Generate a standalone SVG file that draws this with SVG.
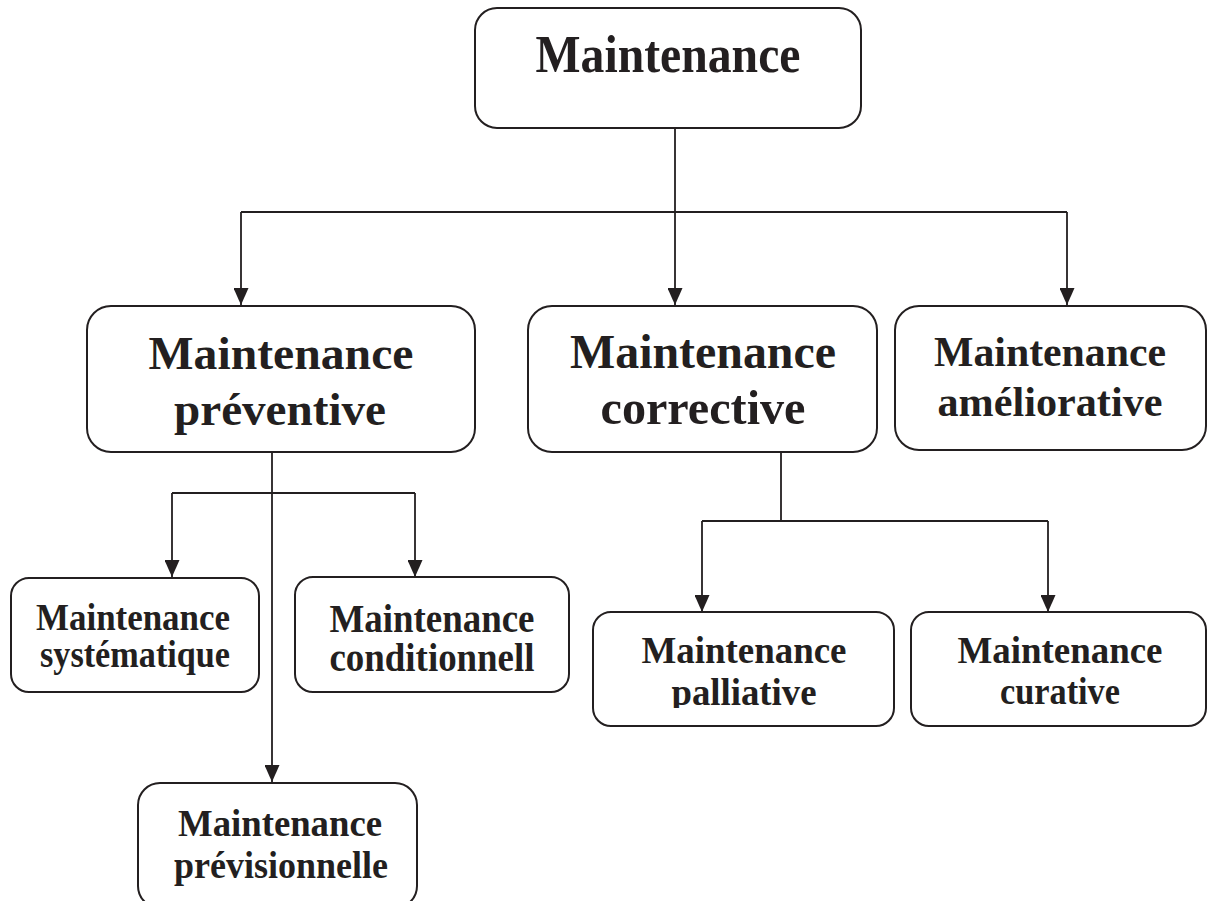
<svg xmlns="http://www.w3.org/2000/svg" width="1208" height="901" viewBox="0 0 1208 901">
<style>
.box{fill:#fff;stroke:#231f20;stroke-width:2}
.t{font-family:"Liberation Serif","Times New Roman",serif;font-weight:bold;fill:#231f20;text-anchor:middle}
.c{fill:none;stroke:#231f20;stroke-width:1.8}
</style>
<defs>
<marker id="a" viewBox="0 0 17 15" refX="17" refY="7.5" markerWidth="17" markerHeight="15" orient="auto" markerUnits="userSpaceOnUse">
<path d="M0,0 L17,7.5 L0,15 Z" fill="#231f20"/>
</marker>
<clipPath id="clipPal"><rect x="594" y="612" width="300" height="96"/></clipPath>
</defs>
<rect width="1208" height="901" fill="#fff"/>
<g id="connectors">
<path class="c" d="M675,128 V212"/>
<path class="c" d="M241,212 H1067"/>
<path class="c" d="M241,212 V305" marker-end="url(#a)"/>
<path class="c" d="M675,212 V305" marker-end="url(#a)"/>
<path class="c" d="M1067,212 V305" marker-end="url(#a)"/>
<path class="c" d="M272,452 V782" marker-end="url(#a)"/>
<path class="c" d="M172,493 H415"/>
<path class="c" d="M172,493 V577" marker-end="url(#a)"/>
<path class="c" d="M415,493 V577" marker-end="url(#a)"/>
<path class="c" d="M781,452 V521 M702,521 H1048"/>
<path class="c" d="M702,521 V612" marker-end="url(#a)"/>
<path class="c" d="M1048,521 V612" marker-end="url(#a)"/>
</g>
<g id="n-maintenance">
<rect class="box" x="475" y="8" width="386" height="120" rx="22"/>
<text class="t" x="668" y="72" font-size="52" textLength="265" lengthAdjust="spacingAndGlyphs">Maintenance</text>
</g>
<g id="n-preventive">
<rect class="box" x="87" y="306" width="388" height="146" rx="24"/>
<text class="t" x="281" y="369" font-size="47" textLength="265" lengthAdjust="spacingAndGlyphs">Maintenance</text>
<text class="t" x="280" y="425" font-size="47" textLength="212" lengthAdjust="spacingAndGlyphs">préventive</text>
</g>
<g id="n-corrective">
<rect class="box" x="528" y="306" width="349" height="146" rx="24"/>
<text class="t" x="703" y="368" font-size="48" textLength="266" lengthAdjust="spacingAndGlyphs">Maintenance</text>
<text class="t" x="703" y="424" font-size="48" textLength="205" lengthAdjust="spacingAndGlyphs">corrective</text>
</g>
<g id="n-ameliorative">
<rect class="box" x="895" y="306" width="311" height="144" rx="24"/>
<text class="t" x="1050" y="366" font-size="43" textLength="232" lengthAdjust="spacingAndGlyphs">Maintenance</text>
<text class="t" x="1050" y="416" font-size="43" textLength="225" lengthAdjust="spacingAndGlyphs">améliorative</text>
</g>
<g id="n-systematique">
<rect class="box" x="11" y="578" width="248" height="114" rx="18"/>
<text class="t" x="133" y="630" font-size="37" textLength="194" lengthAdjust="spacingAndGlyphs">Maintenance</text>
<text class="t" x="135" y="667" font-size="37" textLength="190" lengthAdjust="spacingAndGlyphs">systématique</text>
</g>
<g id="n-conditionnell">
<rect class="box" x="295" y="577" width="274" height="115" rx="18"/>
<text class="t" x="432" y="632" font-size="39" textLength="205" lengthAdjust="spacingAndGlyphs">Maintenance</text>
<text class="t" x="432" y="671" font-size="39" textLength="205" lengthAdjust="spacingAndGlyphs">conditionnell</text>
</g>
<g id="n-palliative">
<rect class="box" x="593" y="612" width="301" height="114" rx="18"/>
<text class="t" x="744" y="663" font-size="38" textLength="205" lengthAdjust="spacingAndGlyphs">Maintenance</text>
<text class="t" x="744" y="705" font-size="38" textLength="145" lengthAdjust="spacingAndGlyphs" clip-path="url(#clipPal)">palliative</text>
</g>
<g id="n-curative">
<rect class="box" x="911" y="612" width="295" height="114" rx="18"/>
<text class="t" x="1060" y="663" font-size="38" textLength="205" lengthAdjust="spacingAndGlyphs">Maintenance</text>
<text class="t" x="1060" y="704" font-size="38" textLength="120" lengthAdjust="spacingAndGlyphs">curative</text>
</g>
<g id="n-previsionnelle">
<rect class="box" x="138" y="783" width="279" height="125" rx="22"/>
<text class="t" x="280" y="836" font-size="38" textLength="204" lengthAdjust="spacingAndGlyphs">Maintenance</text>
<text class="t" x="281" y="878" font-size="38" textLength="214" lengthAdjust="spacingAndGlyphs">prévisionnelle</text>
</g>
</svg>
